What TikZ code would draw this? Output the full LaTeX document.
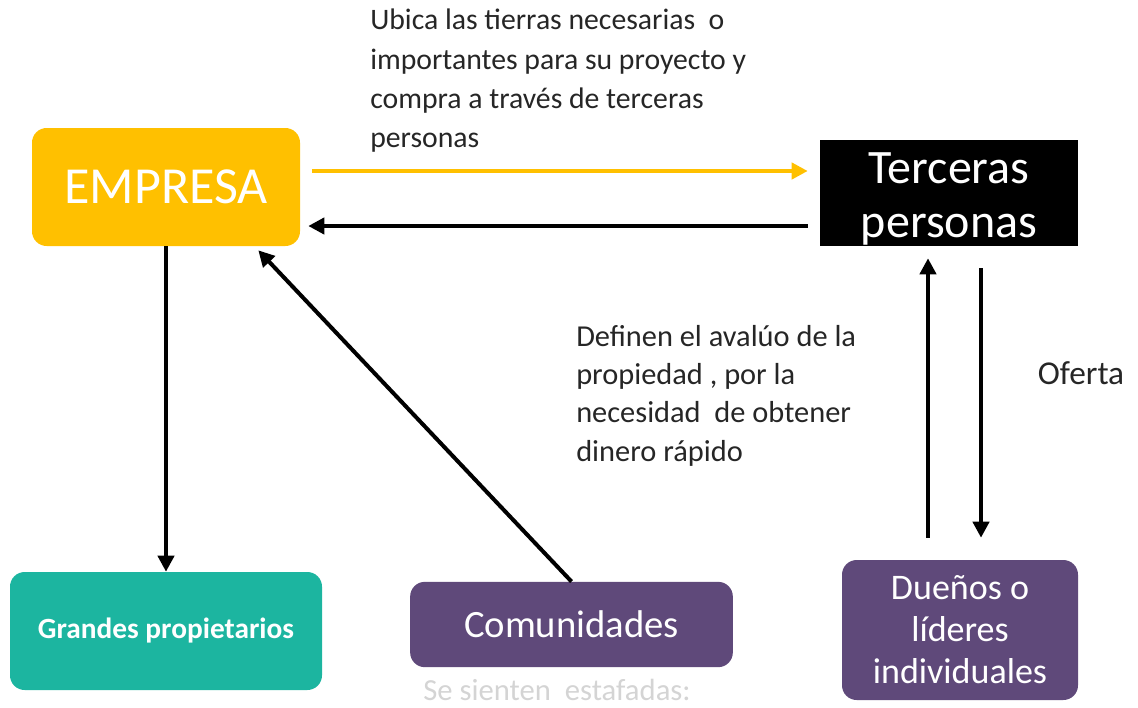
\documentclass[tikz,border=0pt]{standalone}
\usepackage{fontspec}
\setmainfont{Carlito}
\usetikzlibrary{arrows.meta,calc}
\definecolor{cYellow}{HTML}{FFC000}
\definecolor{cTeal}{HTML}{1CB5A0}
\definecolor{cPurple}{HTML}{5F497A}
\definecolor{cGhost}{HTML}{D4D4D4}
\tikzset{
  box/.style={rectangle, rounded corners=11pt, inner sep=0pt, text=white, align=center},
  arr/.style={line width=3pt, -{Triangle[length=12pt,width=12pt]}},
  lbl/.style={inner sep=0pt, align=left, text=black!85},
}
\begin{document}
\begin{tikzpicture}[x=0.75pt,y=-0.75pt]
\useasboundingbox (0,0) rectangle (1138,707);
% boxes
\node[box, fill=cYellow, minimum width=201pt, minimum height=88.5pt,
      font=\fontsize{39pt}{46pt}\selectfont] (emp) at (166,187) {EMPRESA};
\node[rectangle, fill=black, inner sep=0pt, text=white, align=center,
      minimum width=193.5pt, minimum height=79.5pt,
      font=\fontsize{36pt}{40.5pt}\selectfont] (ter) at (949,193) {\rule{0pt}{32pt}Terceras\\personas};
\node[box, fill=cTeal, minimum width=234pt, minimum height=88.5pt,
      font=\bfseries\fontsize{22pt}{26pt}\selectfont] (gp) at (166,631) {Grandes propietarios};
\node[box, fill=cPurple, minimum width=242pt, minimum height=64pt,
      font=\fontsize{29pt}{34pt}\selectfont] (com) at (571.5,624.5) {Comunidades};
\node[box, fill=cPurple, minimum width=177pt, minimum height=105pt,
      font=\fontsize{27pt}{31.5pt}\selectfont] (due) at (960,630) {Dueños o\\líderes\\individuales};
% labels
\node[lbl, anchor=north west, font=\fontsize{22.3pt}{29.5pt}\selectfont] (t1) at (370,9)
  {Ubica las tierras necesarias\ \ o\\importantes para su proyecto y\\compra a través de terceras\\personas};
\node[lbl, anchor=north west, font=\fontsize{22.8pt}{28.7pt}\selectfont] (t2) at (576,325)
  {Definen el avalúo de la\\propiedad , por la\\necesidad\ \ de obtener\\dinero rápido};
\node[lbl, anchor=base, font=\fontsize{25pt}{30pt}\selectfont] (t3) at (1081,384) {Oferta};
\node[inner sep=0pt, anchor=base, text=cGhost, font=\fontsize{23pt}{28pt}\selectfont] (t4) at (557,700) {Se sienten\ \ estafadas:};
% helper coordinates
\coordinate (ya) at (0,171);
\coordinate (yb) at (0,226);
\coordinate (xu) at (928,0);
\coordinate (xd) at (981,0);
\coordinate (diagEnd) at ($(emp.south east)+(-42,4)$);
% connectors
\draw[arr, cYellow, shorten <=9pt, shorten >=9pt] (emp.east |- ya) -- (ter.west |- ya);
\draw[arr, shorten <=9pt, shorten >=6pt] (ter.west |- yb) -- (emp.east |- yb);
\draw[arr] (emp.south) -- (gp.north);
\draw[arr] (com.north) -- (diagEnd);
\draw[arr, shorten <=16.5pt, shorten >=9pt] (due.north -| xu) -- (ter.south -| xu);
\draw[arr, shorten <=16.5pt, shorten >=16.5pt] (ter.south -| xd) -- (due.north -| xd);
\end{tikzpicture}
\end{document}
